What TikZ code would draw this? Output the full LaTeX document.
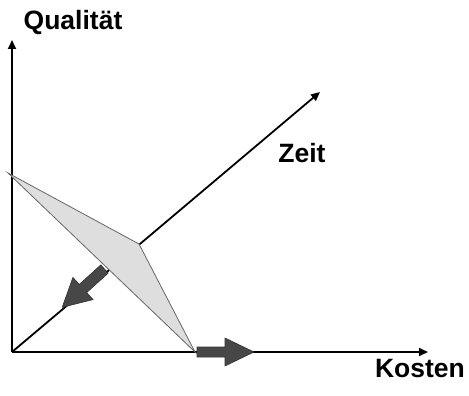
\documentclass[tikz,border=0pt]{standalone}
\usepackage{fontspec}
\setmainfont{Liberation Sans}
\usetikzlibrary{arrows.meta}

\tikzset{
  axis/.style={line width=1.8pt,-{Triangle[length=9pt,width=8pt]}},
  label/.style={font=\bfseries\fontsize{26.5}{30}\selectfont,anchor=base,inner sep=0pt},
  fatarrow/.style={fill=black!72,draw=black!80,line width=0.6pt,line join=miter}
}

\begin{document}
\begin{tikzpicture}[x=1pt,y=-1pt]

\useasboundingbox (0,0) rectangle (469,396);

% Points of the picture
\coordinate (O) at (12,352);
\coordinate (qend) at (12,40);
\coordinate (kend) at (428,352);
\coordinate (zend) at (320,92);
\coordinate (q) at (8,173);
\coordinate (z) at (139,244);
\coordinate (k) at (195,352);

% Draw the axes
\draw[axis] (O) -- (qend);
\draw[axis] (O) -- (kend);
\draw[axis] (O) -- (zend);

% Labels for the axes
\node[label] (qual) at (73,30) {Qualität};
\node[label] (zeit) at (302,162) {Zeit};
\node[label] (kost) at (420,377) {Kosten};

% Draw the triangle
\draw[fill=black!13,draw=black!60,line width=0.8pt,line join=miter] (q) -- (z) -- (k) -- cycle;

% Draw the fat arrows
\draw[fatarrow] (108.2,273.1) -- (86.7,292.6) -- (93.1,299.6) -- (62.2,307.3)
  -- (72.9,277.4) -- (79.3,284.4) -- (100.8,264.9) -- cycle;
\draw[fatarrow] (197,347) -- (225,347) -- (225,338) -- (254,352)
  -- (225,366) -- (225,357) -- (197,357) -- cycle;

\end{tikzpicture}
\end{document}
